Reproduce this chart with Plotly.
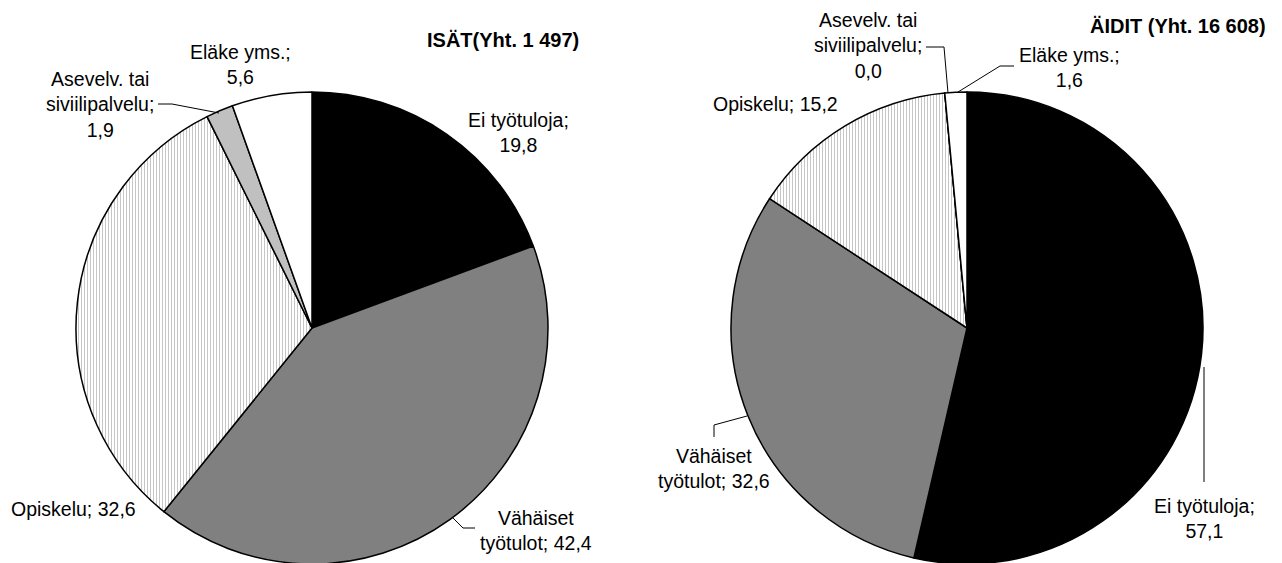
import plotly.graph_objects as go

# ---- data ----
categories = ["Ei työtuloja", "Vähäiset<br>työtulot", "Opiskelu",
              "Asevelv. tai<br>siviilipalvelu", "Eläke yms."]
label_sep = ["<br>", " ", " ", "<br>", "<br>"]
isat_values = [19.8, 42.4, 32.6, 1.9, 5.6]
aidit_values = [57.1, 32.6, 15.2, 0.0, 1.6]
isat_title = "ISÄT(Yht. 1 497)"
aidit_title = "ÄIDIT (Yht. 16 608)"

W, H = 1282, 563
OFF = 8  # page body margin
FONT = "Liberation Sans, Arial, sans-serif"
colors = ["#000000", "#808080", "#ffffff", "#c0c0c0", "#ffffff"]
shapes_pat = ["", "", "|", "", ""]


def px(x):
    return (x - OFF) / W


def py(y):
    return 1 - (y - OFF) / H


def fmt(v):
    return f"{v:.1f}".replace(".", ",")


def pie(values, cx, cy, r):
    return go.Pie(
        values=values,
        labels=[c.replace("<br>", " ") for c in categories],
        sort=False,
        direction="clockwise",
        rotation=0,
        textinfo="none",
        hoverinfo="label+value",
        showlegend=False,
        domain=dict(x=[px(cx - r), px(cx + r)],
                    y=[max(0, py(cy + r)), min(1, py(cy - r))]),
        marker=dict(
            colors=colors,
            line=dict(color="#000000", width=1.5),
            pattern=dict(shape=shapes_pat, fgcolor="#c6c6c6", bgcolor="#ffffff",
                         size=3, solidity=0.34),
        ),
    )


fig = go.Figure()
fig.add_trace(pie(isat_values, 312, 328, 236))
fig.add_trace(pie(aidit_values, 967, 328, 236))

# label positions (pixel centres) for each category
isat_pos = [(519, 132), (536, 530), (73, 509), (100, 104), (240, 65)]
aidit_pos = [(1204, 518), (714, 468), (775, 104), (868, 46), (1069, 67)]

annotations = []
for vals, pos in ((isat_values, isat_pos), (aidit_values, aidit_pos)):
    for cat, sep, v, (x, y) in zip(categories, label_sep, vals, pos):
        annotations.append(dict(
            x=px(x), y=py(y), xref="paper", yref="paper",
            text=f"{cat};{sep}{fmt(v)}", showarrow=False,
            font=dict(family=FONT, size=19.5, color="#000000"),
            xanchor="center", yanchor="middle", align="center",
        ))

annotations.append(dict(x=px(503), y=py(40), xref="paper", yref="paper",
                        text=f"<b>{isat_title}</b>", showarrow=False,
                        font=dict(family=FONT, size=20, color="#000000"),
                        xanchor="center", yanchor="middle"))
annotations.append(dict(x=px(1178), y=py(26), xref="paper", yref="paper",
                        text=f"<b>{aidit_title}</b>", showarrow=False,
                        font=dict(family=FONT, size=20, color="#000000"),
                        xanchor="center", yanchor="middle"))

# leader lines (pixel paths)
leaders = [
    [(158, 104), (172, 104), (219, 113)],
    [(452, 517), (463, 528), (475, 528)],
    [(926, 47), (944, 47), (948, 93)],
    [(1014, 66), (1000, 66), (958, 92)],
    [(714, 437), (714, 425), (747, 416)],
    [(1204, 482), (1204, 367)],
]
shapes = []
for pts in leaders:
    path = "M " + " L ".join(f"{px(x)},{py(y)}" for x, y in pts)
    shapes.append(dict(type="path", path=path, xref="paper", yref="paper",
                       line=dict(color="#000000", width=1)))

fig.update_layout(
    width=W, height=H,
    margin=dict(l=0, r=0, t=0, b=0),
    paper_bgcolor="#ffffff",
    plot_bgcolor="#ffffff",
    annotations=annotations,
    shapes=shapes,
    font=dict(family=FONT),
)

fig.write_html("out.html")
